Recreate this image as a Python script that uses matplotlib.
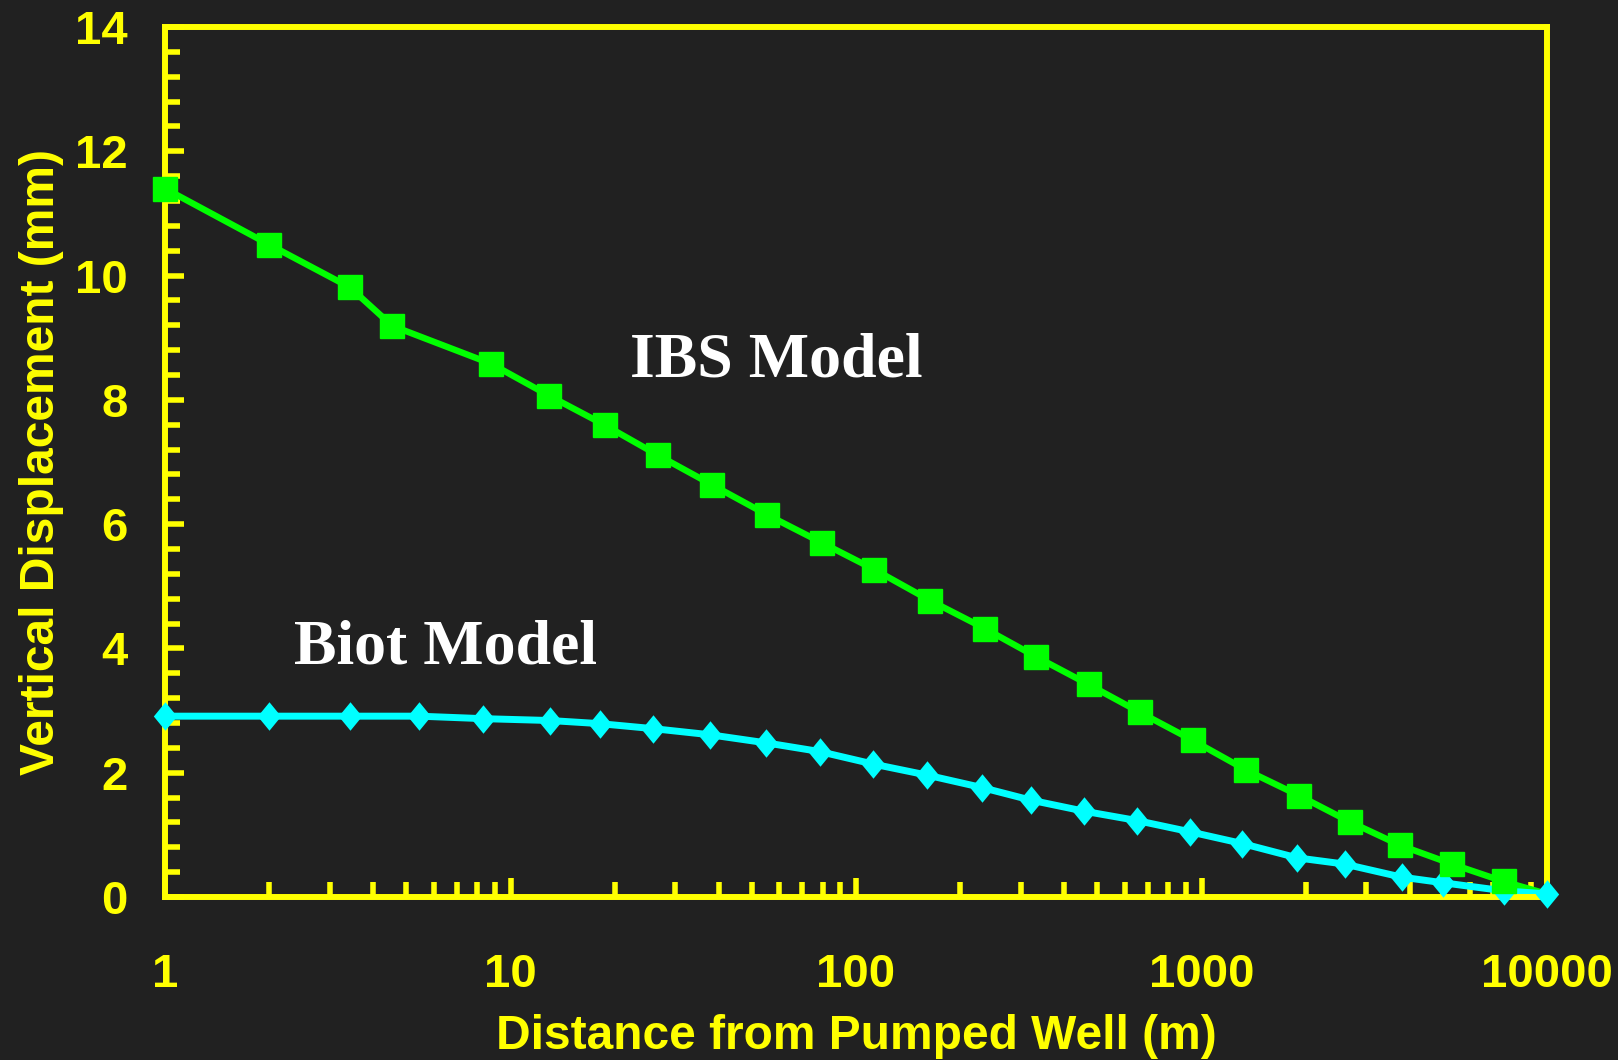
import numpy as np
import matplotlib.pyplot as plt
from matplotlib.ticker import MultipleLocator, LogLocator, NullFormatter

# distance from pumped well (m) and vertical displacement (mm)
ibs_dist = [1, 2.0, 3.43, 4.55, 8.8, 12.9, 18.8, 26.7, 38.4, 55.3, 79.7, 113, 164,
            236, 331, 471, 664, 944, 1349, 1918, 2687, 3765, 5309, 7487, 10000]
ibs_disp = [11.40, 10.50, 9.81, 9.19, 8.58, 8.07, 7.59, 7.11, 6.63, 6.15, 5.70, 5.27, 4.77,
            4.32, 3.87, 3.42, 2.97, 2.52, 2.04, 1.63, 1.21, 0.83, 0.53, 0.25, 0.05]

biot_dist = [1, 2.0, 3.43, 5.44, 8.33, 13.0, 18.1, 25.8, 37.9, 55.0, 78.6, 112, 161,
             232, 320, 458, 651, 925, 1313, 1892, 2595, 3793, 4990, 7487, 10000]
biot_disp = [2.91, 2.91, 2.91, 2.91, 2.87, 2.84, 2.79, 2.71, 2.61, 2.48, 2.34, 2.14, 1.96,
             1.76, 1.56, 1.38, 1.23, 1.05, 0.86, 0.63, 0.53, 0.32, 0.23, 0.10, 0.05]

x_ticks = [1, 10, 100, 1000, 10000]
x_labels = ["1", "10", "100", "1000", "10000"]
y_ticks = [0, 2, 4, 6, 8, 10, 12, 14]

bg = "#212121"
yellow = "#ffff00"
green = "#00ff00"
cyan = "#00ffff"

# slightly tall diamond
diamond = [(0, 1), (0.82, 0), (0, -1), (-0.82, 0), (0, 1)]

plt.rcParams['font.family'] = ['Liberation Sans', 'DejaVu Sans']
plt.rcParams['font.weight'] = 'bold'

fig = plt.figure(figsize=(16.18, 10.60), dpi=100, facecolor=bg)
ax = fig.add_axes([165/1618, 1 - 897/1060, (1547 - 165)/1618, (897 - 27)/1060])
ax.set_facecolor(bg)

# lines underneath, markers on top
ax.plot(ibs_dist, ibs_disp, color=green, lw=4.6, zorder=2, clip_on=False)
ax.plot(biot_dist, biot_disp, color=cyan, lw=5, zorder=2, clip_on=False)
ax.plot(biot_dist, biot_disp, ls="none", marker=diamond, ms=20.5, color=cyan,
        mec=cyan, mew=0, zorder=3, clip_on=False)
ax.plot(ibs_dist[:-1], ibs_disp[:-1], ls="none", marker="s", ms=17, color=green,
        mec=green, zorder=4, clip_on=False)

ax.set_xscale("log")
ax.set_xlim(1, 10000)
ax.set_ylim(0, 14)

ax.set_xticks(x_ticks)
ax.set_xticklabels(x_labels)
ax.xaxis.set_minor_locator(LogLocator(base=10, subs=np.arange(2, 10)))
ax.xaxis.set_minor_formatter(NullFormatter())
ax.set_yticks(y_ticks)
ax.yaxis.set_minor_locator(MultipleLocator(0.4))

for s in ax.spines.values():
    s.set_color(yellow)
    s.set_linewidth(4.3)
    s.set_zorder(2.5)

ax.tick_params(axis="both", which="both", direction="in", color=yellow,
               labelcolor=yellow, top=False, right=False, width=4)
ax.tick_params(axis="both", which="major", length=13.5, labelsize=34)
ax.tick_params(axis="both", which="minor", length=10.5)
ax.tick_params(axis="y", which="major", pad=27)
ax.tick_params(axis="x", which="major", pad=40)

ax.set_xlabel("Distance from Pumped Well (m)", color=yellow, fontsize=34.5,
              fontweight="bold")
ax.set_ylabel("Vertical Displacement (mm)", color=yellow, fontsize=34.5,
              fontweight="bold")
ax.xaxis.set_label_coords(0.5, -0.134)
ax.yaxis.set_label_coords(-0.073, 0.5)

ax.text(22.2, 8.38, "IBS Model", color="white", fontsize=46, fontweight="bold",
        family=["Liberation Serif", "DejaVu Serif"], ha="left", va="baseline")
ax.text(2.36, 3.76, "Biot Model", color="white", fontsize=46, fontweight="bold",
        family=["Liberation Serif", "DejaVu Serif"], ha="left", va="baseline")

fig.savefig("out.png", dpi=100, facecolor=bg)
